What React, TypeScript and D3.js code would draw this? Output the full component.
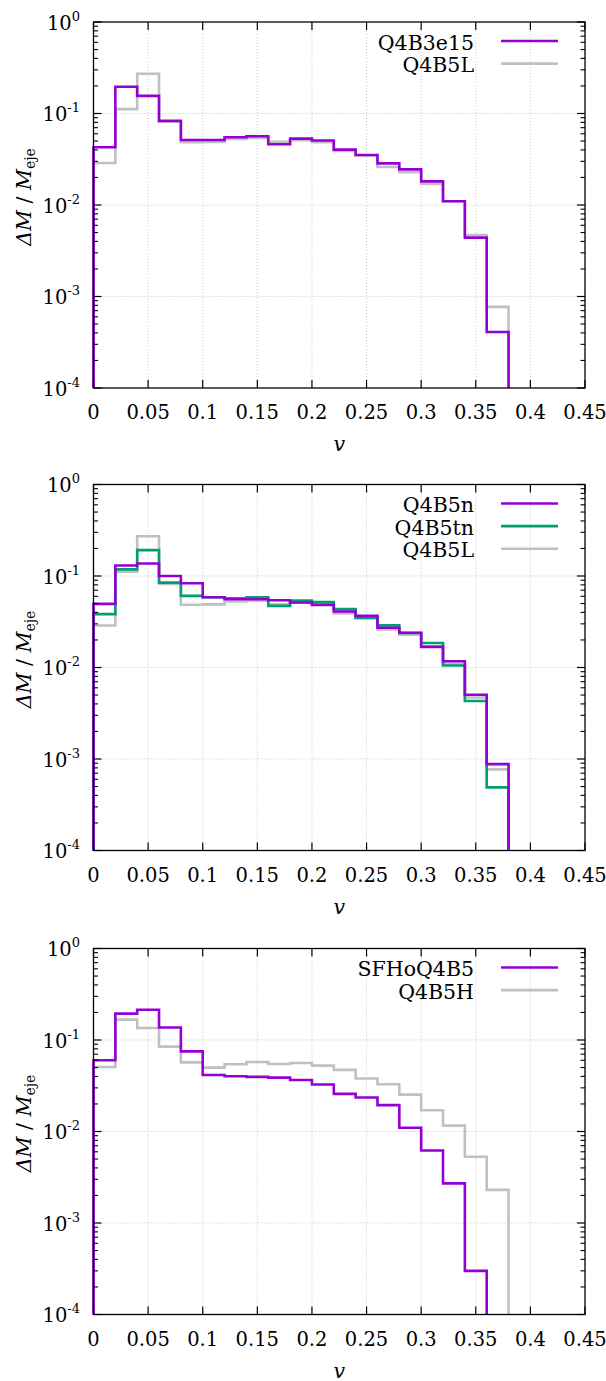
import React from "react";
import * as d3 from "d3";

// bin edges (lower edges), width 0.02
const binWidth = 0.02;
const xTicks = [0, 0.05, 0.1, 0.15, 0.2, 0.25, 0.3, 0.35, 0.4, 0.45];
const yDecades = [-4, -3, -2, -1, 0];

// Panel 1
const q4b3e15 = [0.0427, 0.196, 0.156, 0.083, 0.0514, 0.0514, 0.055, 0.0564, 0.0461, 0.0532, 0.0506, 0.0403, 0.0352, 0.0285, 0.0245, 0.0181, 0.011, 0.0044, 0.00041];
const q4b5L = [0.0288, 0.1116, 0.272, 0.082, 0.0485, 0.049, 0.0527, 0.054, 0.049, 0.051, 0.0485, 0.039, 0.0347, 0.026, 0.0229, 0.017, 0.011, 0.0047, 0.00077];
// Panel 2
const q4b5n = [0.0496, 0.13, 0.137, 0.1, 0.0832, 0.0586, 0.0557, 0.0557, 0.0544, 0.0513, 0.0484, 0.041, 0.0367, 0.0272, 0.024, 0.0168, 0.0117, 0.00504, 0.00088];
const q4b5tn = [0.0383, 0.118, 0.192, 0.0847, 0.0606, 0.0586, 0.0572, 0.0586, 0.0472, 0.054, 0.0518, 0.0435, 0.0347, 0.0289, 0.0238, 0.0185, 0.0105, 0.0043, 0.00049];
// Panel 3
const sfhoQ4B5 = [0.06, 0.194, 0.214, 0.137, 0.0752, 0.0415, 0.0401, 0.0395, 0.0388, 0.0366, 0.0326, 0.0258, 0.0235, 0.0194, 0.011, 0.0062, 0.00271, 0.0003];
const q4b5H = [0.0507, 0.167, 0.135, 0.0846, 0.057, 0.0499, 0.0543, 0.0575, 0.0547, 0.056, 0.0525, 0.0471, 0.0379, 0.0328, 0.0253, 0.0171, 0.0116, 0.0053, 0.0023];

const PURPLE = "#9400d3";
const GREEN = "#009e73";
const GREY = "#c0c0c0";

type Series = { name: string; values: number[]; color: string };

const panels: { top: number; series: Series[]; drawOrder: number[] }[] = [
  {
    top: 22,
    series: [
      { name: "Q4B3e15", values: q4b3e15, color: PURPLE },
      { name: "Q4B5L", values: q4b5L, color: GREY },
    ],
    drawOrder: [1, 0],
  },
  {
    top: 484.5,
    series: [
      { name: "Q4B5n", values: q4b5n, color: PURPLE },
      { name: "Q4B5tn", values: q4b5tn, color: GREEN },
      { name: "Q4B5L", values: q4b5L, color: GREY },
    ],
    drawOrder: [2, 1, 0],
  },
  {
    top: 948.5,
    series: [
      { name: "SFHoQ4B5", values: sfhoQ4B5, color: PURPLE },
      { name: "Q4B5H", values: q4b5H, color: GREY },
    ],
    drawOrder: [1, 0],
  },
];

const LEFT = 93.5;
const RIGHT = 585;
const HEIGHT = 366;
const FONT = "DejaVu Serif";
const FS = 19.5;
const SUB = 13;
const LEG_FS = 20.5;

function Panel({ top, series, drawOrder }: { top: number; series: Series[]; drawOrder: number[] }) {
  const bottom = top + HEIGHT;
  const x = d3.scaleLinear().domain([0, 0.45]).range([LEFT, RIGHT]);
  const y = d3.scaleLog().domain([1e-4, 1]).range([bottom, top]);

  const stepPath = (vals: number[]) => {
    const pts: [number, number][] = [[0, 1e-4]];
    vals.forEach((v, i) => pts.push([i * binWidth, v]));
    const end = vals.length * binWidth;
    pts.push([end, vals[vals.length - 1]]);
    pts.push([end, 1e-4]);
    const line = d3
      .line<[number, number]>()
      .x((d) => x(d[0]))
      .y((d) => y(d[1]))
      .curve(d3.curveStepAfter);
    return line(pts) || "";
  };

  const minor: number[] = [];
  for (let e = -4; e < 0; e++) {
    for (let m = 2; m <= 9; m++) minor.push(m * Math.pow(10, e));
  }

  const midY = (top + bottom) / 2;

  return (
    <g>
      {xTicks.slice(1, -1).map((t) => (
        <line key={"gx" + t} x1={x(t)} x2={x(t)} y1={top} y2={bottom} stroke="#c8c8c8" strokeWidth={1} strokeDasharray="1,2" />
      ))}
      {yDecades.slice(1, -1).map((e) => (
        <line key={"gy" + e} x1={LEFT} x2={RIGHT} y1={y(Math.pow(10, e))} y2={y(Math.pow(10, e))} stroke="#c8c8c8" strokeWidth={1} strokeDasharray="1,2" />
      ))}
      {drawOrder.map((i) => (
        <path key={"s" + i} d={stepPath(series[i].values)} fill="none" stroke={series[i].color} strokeWidth={2.6} strokeLinejoin="miter" />
      ))}
      <rect x={LEFT} y={top} width={RIGHT - LEFT} height={HEIGHT} fill="none" stroke="#000" strokeWidth={1.3} />
      {xTicks.map((t) => (
        <g key={"xt" + t}>
          <line x1={x(t)} x2={x(t)} y1={bottom} y2={bottom - 8} stroke="#000" strokeWidth={1.2} />
          <line x1={x(t)} x2={x(t)} y1={top} y2={top + 8} stroke="#000" strokeWidth={1.2} />
          <text x={x(t)} y={bottom + 31} textAnchor="middle" fontFamily={FONT} fontSize={FS}>
            {String(t)}
          </text>
        </g>
      ))}
      {yDecades.map((e) => (
        <g key={"yt" + e}>
          <line x1={LEFT} x2={LEFT + 8} y1={y(Math.pow(10, e))} y2={y(Math.pow(10, e))} stroke="#000" strokeWidth={1.2} />
          <line x1={RIGHT} x2={RIGHT - 8} y1={y(Math.pow(10, e))} y2={y(Math.pow(10, e))} stroke="#000" strokeWidth={1.2} />
          <text x={80} y={y(Math.pow(10, e)) + 7.5} textAnchor="end" fontFamily={FONT} fontSize={FS}>
            10
            <tspan fontSize={SUB} dy={-9}>
              {String(e)}
            </tspan>
          </text>
        </g>
      ))}
      {minor.map((m, i) => (
        <g key={"mn" + i}>
          <line x1={LEFT} x2={LEFT + 4.5} y1={y(m)} y2={y(m)} stroke="#000" strokeWidth={1.1} />
          <line x1={RIGHT} x2={RIGHT - 4.5} y1={y(m)} y2={y(m)} stroke="#000" strokeWidth={1.1} />
        </g>
      ))}
      {series.map((s, i) => {
        const ly = top + 19 + i * 22.6;
        return (
          <g key={"lg" + i}>
            <text x={474} y={ly + 8.5} textAnchor="end" fontFamily={FONT} fontSize={LEG_FS}>
              {s.name}
            </text>
            <line x1={501} x2={558} y1={ly} y2={ly} stroke={s.color} strokeWidth={2.6} />
          </g>
        );
      })}
      <text x={(LEFT + RIGHT) / 2} y={bottom + 63} textAnchor="middle" fontFamily={FONT} fontSize={FS + 1} fontStyle="italic">
        v
      </text>
      <text transform={`translate(31,${midY - 8}) rotate(-90)`} textAnchor="middle" fontFamily={FONT} fontSize={20.5}>
        <tspan fontStyle="italic">ΔM</tspan>
        <tspan> / </tspan>
        <tspan fontStyle="italic">M</tspan>
        <tspan fontSize={14} dy={4}>eje</tspan>
      </text>
    </g>
  );
}

export default function App() {
  return (
    <svg width={606} height={1381} style={{ position: "absolute", left: 0, top: 0, background: "#fff" }}>
      <rect x={0} y={0} width={606} height={1381} fill="#fff" />
      {panels.map((p, i) => (
        <Panel key={i} top={p.top} series={p.series} drawOrder={p.drawOrder} />
      ))}
    </svg>
  );
}
